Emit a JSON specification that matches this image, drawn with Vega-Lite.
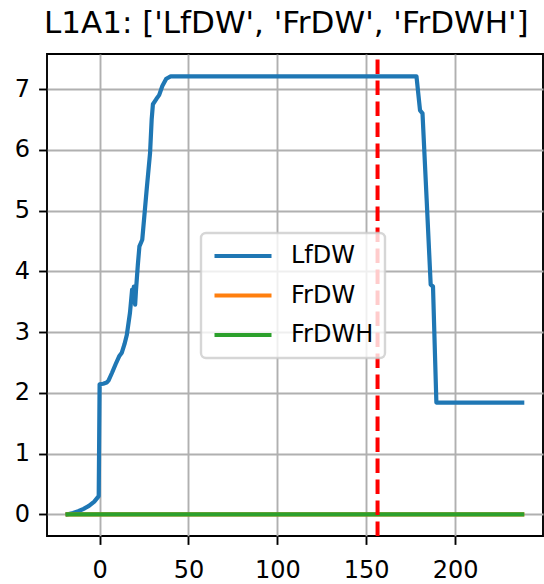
{
  "$schema": "https://vega.github.io/schema/vega-lite/v6.json",
  "width": 496,
  "height": 482,
  "autosize": {"type": "none"},
  "padding": {"left": 47, "top": 54, "right": 1, "bottom": 48},
  "background": "white",
  "title": {
    "text": "L1A1: ['LfDW', 'FrDW', 'FrDWH']",
    "anchor": "start",
    "frame": "group",
    "font": "DejaVu Sans",
    "fontSize": 31,
    "fontWeight": "normal",
    "color": "black",
    "baseline": "alphabetic",
    "offset": 16,
    "dx": -3,
    "dy": 28
  },
  "datasets": {
    "lines": [
      {"series": "LfDW", "x": -18, "y": 0},
      {"series": "LfDW", "x": -15, "y": 0.02},
      {"series": "LfDW", "x": -12, "y": 0.05},
      {"series": "LfDW", "x": -9, "y": 0.09},
      {"series": "LfDW", "x": -6, "y": 0.14},
      {"series": "LfDW", "x": -3, "y": 0.21},
      {"series": "LfDW", "x": -0.5, "y": 0.3},
      {"series": "LfDW", "x": 0, "y": 2.14},
      {"series": "LfDW", "x": 2, "y": 2.15},
      {"series": "LfDW", "x": 4, "y": 2.17},
      {"series": "LfDW", "x": 5, "y": 2.2},
      {"series": "LfDW", "x": 7, "y": 2.33},
      {"series": "LfDW", "x": 9, "y": 2.47},
      {"series": "LfDW", "x": 11, "y": 2.6},
      {"series": "LfDW", "x": 12.5, "y": 2.66},
      {"series": "LfDW", "x": 14, "y": 2.8},
      {"series": "LfDW", "x": 15.3, "y": 2.95},
      {"series": "LfDW", "x": 17.1, "y": 3.32},
      {"series": "LfDW", "x": 18.3, "y": 3.7},
      {"series": "LfDW", "x": 18.7, "y": 3.5},
      {"series": "LfDW", "x": 19.3, "y": 3.75},
      {"series": "LfDW", "x": 20, "y": 3.45},
      {"series": "LfDW", "x": 20.5, "y": 3.7},
      {"series": "LfDW", "x": 21.5, "y": 4.1},
      {"series": "LfDW", "x": 22.4, "y": 4.41},
      {"series": "LfDW", "x": 24, "y": 4.52},
      {"series": "LfDW", "x": 26.5, "y": 5.35},
      {"series": "LfDW", "x": 28.4, "y": 5.95},
      {"series": "LfDW", "x": 29.3, "y": 6.5},
      {"series": "LfDW", "x": 30, "y": 6.75},
      {"series": "LfDW", "x": 32, "y": 6.84},
      {"series": "LfDW", "x": 33.5, "y": 6.9},
      {"series": "LfDW", "x": 35.3, "y": 7.05},
      {"series": "LfDW", "x": 37.5, "y": 7.17},
      {"series": "LfDW", "x": 40, "y": 7.21},
      {"series": "LfDW", "x": 60, "y": 7.21},
      {"series": "LfDW", "x": 100, "y": 7.21},
      {"series": "LfDW", "x": 150, "y": 7.21},
      {"series": "LfDW", "x": 178.3, "y": 7.21},
      {"series": "LfDW", "x": 180.3, "y": 6.65},
      {"series": "LfDW", "x": 181.7, "y": 6.6},
      {"series": "LfDW", "x": 184, "y": 5.2},
      {"series": "LfDW", "x": 186.3, "y": 3.78},
      {"series": "LfDW", "x": 187.6, "y": 3.75},
      {"series": "LfDW", "x": 189.5, "y": 1.84},
      {"series": "LfDW", "x": 200, "y": 1.84},
      {"series": "LfDW", "x": 237.8, "y": 1.84},
      {"series": "FrDW", "x": -18, "y": 0},
      {"series": "FrDW", "x": 237.8, "y": 0},
      {"series": "FrDWH", "x": -18, "y": 0},
      {"series": "FrDWH", "x": 237.8, "y": 0}
    ],
    "vline": [{"x": 156.4}]
  },
  "layer": [
    {
      "data": {"name": "lines"},
      "transform": [{"filter": "datum.series === 'LfDW'"}],
      "mark": {"type": "line", "strokeWidth": 4.2, "strokeJoin": "round", "strokeCap": "square"},
      "encoding": {
        "x": {
          "field": "x",
          "type": "quantitative",
          "scale": {"domain": [-29.6, 249.5], "nice": false, "zero": false},
          "axis": {"values": [0, 50, 100, 150, 200], "format": "d", "labelPadding": 14}
        },
        "y": {
          "field": "y",
          "type": "quantitative",
          "scale": {"domain": [-0.357, 7.577], "nice": false, "zero": false},
          "axis": {"values": [0, 1, 2, 3, 4, 5, 6, 7], "format": "d", "labelPadding": 9}
        },
        "color": {
          "field": "series",
          "type": "nominal",
          "scale": {"domain": ["LfDW", "FrDW", "FrDWH"], "range": ["#1f77b4", "#ff7f0e", "#2ca02c"]},
          "legend": {
            "title": null,
            "orient": "none",
            "legendX": 154,
            "legendY": 179,
            "symbolType": "stroke",
            "symbolSize": 3249,
            "symbolStrokeWidth": 4.2,
            "clipHeight": 24,
            "rowPadding": 15.5,
            "padding": 11,
            "labelOffset": 17,
            "labelFont": "DejaVu Sans",
            "labelFontSize": 24,
            "labelColor": "black",
            "fillColor": "rgba(255,255,255,0.8)",
            "strokeColor": "rgba(204,204,204,0.8)",
            "cornerRadius": 5
          }
        }
      }
    },
    {
      "data": {"name": "lines"},
      "transform": [{"filter": "datum.series === 'FrDW'"}],
      "mark": {"type": "line", "strokeWidth": 4.2, "strokeJoin": "round", "strokeCap": "square"},
      "encoding": {
        "x": {"field": "x", "type": "quantitative"},
        "y": {"field": "y", "type": "quantitative"},
        "color": {"field": "series", "type": "nominal"}
      }
    },
    {
      "data": {"name": "lines"},
      "transform": [{"filter": "datum.series === 'FrDWH'"}],
      "mark": {"type": "line", "strokeWidth": 4.2, "strokeJoin": "round", "strokeCap": "square"},
      "encoding": {
        "x": {"field": "x", "type": "quantitative"},
        "y": {"field": "y", "type": "quantitative"},
        "color": {"field": "series", "type": "nominal"}
      }
    },
    {
      "data": {"name": "vline"},
      "mark": {"type": "rule", "color": "#ff0000", "strokeWidth": 4, "strokeDash": [14.5, 6.5], "strokeDashOffset": 15.5},
      "encoding": {
        "x": {"field": "x", "type": "quantitative"}
      }
    }
  ],
  "resolve": {"scale": {"color": "shared", "x": "shared", "y": "shared"}},
  "config": {
    "view": {"stroke": "black", "strokeWidth": 1.9},
    "legend": {"strokeWidth": 2.4},
    "axis": {
      "title": null,
      "grid": true,
      "gridColor": "#b0b0b0",
      "gridWidth": 1.9,
      "domain": false,
      "ticks": true,
      "tickColor": "black",
      "tickWidth": 1.9,
      "tickSize": 8.4,
      "labelFont": "DejaVu Sans",
      "labelFontSize": 24,
      "labelColor": "black",
      "labelFlush": false,
      "labelOverlap": false
    }
  }
}
